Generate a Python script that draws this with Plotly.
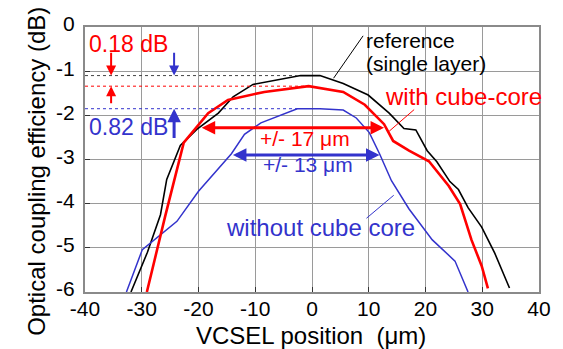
import plotly.graph_objects as go

# ---------------- data ----------------
ref_x = [-31.9, -29.0, -26.7, -25.6, -23.2, -20.3, -16.5, -13.9, -10.4, -5.5, -2.0, 1.4,
         5.5, 9.9, 13.6, 16.2, 18.3, 20.3, 22.0, 24.3, 25.8, 27.5, 29.9, 32.2, 34.8]
ref_y = [-6.0, -5.1, -4.25, -3.45, -2.68, -2.32, -1.95, -1.58, -1.30, -1.19, -1.10, -1.10,
         -1.28, -1.54, -1.95, -2.30, -2.33, -2.80, -3.05, -3.50, -3.68, -4.09, -4.53, -5.12, -5.91]

cube_x = [-29.1, -25.9, -22.6, -20.0, -18.3, -14.8, -8.4, -0.6, 5.5, 9.3, 12.7, 14.3,
          17.1, 20.6, 24.1, 26.1, 28.1, 29.9, 31.0]
cube_y = [-6.0, -4.3, -2.62, -2.22, -1.95, -1.65, -1.47, -1.34, -1.47, -1.76, -2.2, -2.58,
          -2.8, -3.04, -3.6, -4.01, -4.82, -5.41, -5.92]

nocube_x = [-32.7, -29.9, -23.8, -20.0, -14.2, -11.9, -9.0, -2.6, 1.4, 5.5, 7.8, 10.1,
            11.9, 14.0, 17.1, 21.2, 25.2, 27.5]
nocube_y = [-6.0, -5.04, -4.4, -3.72, -2.87, -2.43, -2.17, -1.85, -1.85, -1.88, -2.06, -2.39,
            -2.87, -3.48, -4.12, -4.82, -5.3, -6.0]

x_ticks = [-40, -30, -20, -10, 0, 10, 20, 30, 40]
x_tick_text = ["-40", "-30", "-20", "-10", "0", "10", "20", "30", "40"]
y_ticks = [0, -1, -2, -3, -4, -5, -6]
y_tick_text = ["0", "-1", "-2", "-3", "-4", "-5", "-6"]

# tolerance ranges (um) and their levels
tol_cube = [-19.7, 12.7]
tol_cube_level = -2.28
tol_nocube = [-14.2, 11.9]
tol_nocube_level = -2.9

RED = "#ff0000"
BLUE = "#3333cc"
BLACK = "#000000"
FONT = "Liberation Sans, Arial, sans-serif"

fig = go.Figure()
fig.add_trace(go.Scatter(x=ref_x, y=ref_y, mode="lines", line=dict(color=BLACK, width=1.6),
                         name="reference"))
fig.add_trace(go.Scatter(x=nocube_x, y=nocube_y, mode="lines", line=dict(color=BLUE, width=1.5),
                         name="without cube core"))
fig.add_trace(go.Scatter(x=cube_x, y=cube_y, mode="lines", line=dict(color=RED, width=2.6),
                         name="with cube-core"))

# peak levels
def peak(xs, ys):
    i = max(range(len(ys)), key=lambda k: ys[k])
    return xs[i], ys[i]

ref_px, ref_pk = peak(ref_x, ref_y)
cube_px, cube_pk = peak(cube_x, cube_y)
noc_px, noc_pk = peak(nocube_x, nocube_y)

shapes = []
for px, pk, col in [(ref_px, ref_pk, "#444444"), (cube_px, cube_pk, RED), (noc_px, noc_pk, BLUE)]:
    shapes.append(dict(type="line", xref="x", yref="y", x0=-40, x1=px, y0=pk, y1=pk,
                       line=dict(color=col, width=1, dash="dot"), layer="above"))

# leader lines
shapes.append(dict(type="line", xref="x", yref="y", x0=3.8, y0=-1.16, x1=9.0, y1=-0.2,
                   line=dict(color=BLACK, width=1)))
shapes.append(dict(type="line", xref="x", yref="y", x0=13.6, y0=-2.36, x1=18.0, y1=-1.87,
                   line=dict(color=RED, width=1)))
shapes.append(dict(type="line", xref="x", yref="y", x0=9.6, y0=-4.33, x1=14.4, y1=-3.81,
                   line=dict(color=BLUE, width=1)))

ann = []
def text(x, y, s, col, size, anchor="left"):
    ann.append(dict(x=x, y=y, xref="x", yref="y", text=s, showarrow=False,
                    xanchor=anchor, yanchor="middle",
                    font=dict(family=FONT, size=size, color=col)))

def arrow(x, y, ax, ay, col, w, size=1.0, side="end"):
    ann.append(dict(x=x, y=y, ax=ax, ay=ay, xref="x", yref="y", axref="x", ayref="y",
                    text="", showarrow=True, arrowhead=2, arrowsize=size, arrowwidth=w,
                    arrowcolor=col, arrowside=side, standoff=0, startstandoff=0))

text(-39.6, -0.39, "0.18 dB", RED, 23)
text(-39.6, -2.27, "0.82 dB", BLUE, 23)
text(9.2, -0.31, "reference", BLACK, 21)
text(9.2, -0.82, "(single layer)", BLACK, 21)
text(12.5, -1.57, "with cube-core", RED, 24)
text(-15.5, -4.53, "without cube core", BLUE, 24)
text(-9.6, -2.52, "+/- 17 \u03bcm", RED, 21)
text(-9.0, -3.12, "+/- 13 \u03bcm", BLUE, 21)

arrow(-35.4, ref_pk, -35.4, -0.55, RED, 2, 1.0)
arrow(-35.4, cube_pk, -35.4, -1.76, RED, 2, 1.0)
arrow(-24.3, ref_pk, -24.3, -0.55, BLUE, 2, 1.0)
arrow(-24.3, noc_pk, -24.3, -2.55, BLUE, 3, 0.9)
arrow(tol_cube[1], tol_cube_level, tol_cube[0], tol_cube_level, RED, 3, 0.9, "end+start")
arrow(tol_nocube[1], tol_nocube_level, tol_nocube[0], tol_nocube_level, BLUE, 3, 0.9, "end+start")

# axis titles
ann.append(dict(x=-0.1065, y=0.456, xref="paper", yref="paper", text="Optical coupling efficiency (dB)",
                textangle=-90, showarrow=False, xanchor="center", yanchor="middle",
                font=dict(family=FONT, size=24, color=BLACK)))
ann.append(dict(x=0.497, y=-0.163, xref="paper", yref="paper", text="VCSEL position  (\u03bcm)",
                showarrow=False, xanchor="center", yanchor="middle",
                font=dict(family=FONT, size=24, color=BLACK)))

axis_common = dict(showgrid=True, gridcolor="#9a9a9a", gridwidth=1, showline=True, mirror=True,
                   linecolor="#8a8a8a", linewidth=2, ticks="inside", ticklen=5, tickcolor="#333333",
                   tickfont=dict(family=FONT, size=21, color=BLACK), zeroline=False)

fig.update_layout(
    width=563, height=349,
    margin=dict(l=85, r=18, t=22, b=57),
    plot_bgcolor="white", paper_bgcolor="white",
    showlegend=False,
    shapes=shapes, annotations=ann,
    xaxis=dict(range=[-40, 40], tickvals=x_ticks, ticktext=x_tick_text, ticklabelstandoff=-3,
               **axis_common),
    yaxis=dict(range=[-6, 0], tickvals=y_ticks, ticktext=y_tick_text, ticklabelstandoff=4,
               ticklabelshift=-3, **axis_common),
)

fig.write_html("out.html", config={"displayModeBar": False},
               post_script="document.body.style.margin='0';document.body.style.overflow='hidden';")
